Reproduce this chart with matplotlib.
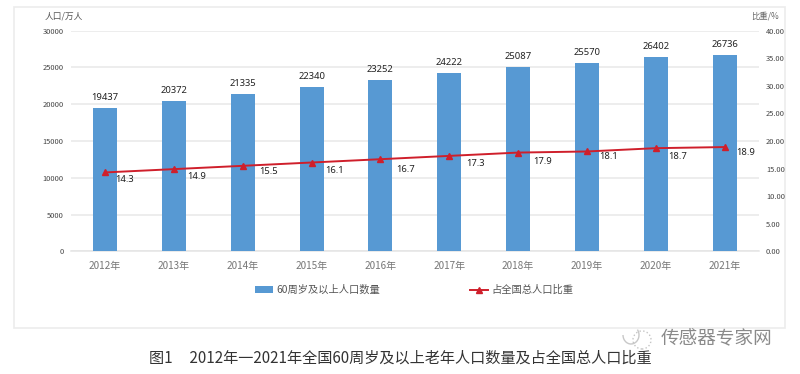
import matplotlib
matplotlib.use("Agg")
import matplotlib.pyplot as plt
from matplotlib.patches import Rectangle, Circle, Arc
from matplotlib.transforms import IdentityTransform

plt.rcParams['font.family'] = ['Noto Sans CJK SC', 'DejaVu Sans']

years = ["2012年", "2013年", "2014年", "2015年", "2016年", "2017年", "2018年", "2019年", "2020年", "2021年"]
population = [19437, 20372, 21335, 22340, 23252, 24222, 25087, 25570, 26402, 26736]
share = [14.3, 14.9, 15.5, 16.1, 16.7, 17.3, 17.9, 18.1, 18.7, 18.9]
pop_ticks = [0, 5000, 10000, 15000, 20000, 25000, 30000]
share_ticks = [0, 5, 10, 15, 20, 25, 30, 35, 40]

# label offsets from the line points, in pixels
label_dx = [19.5, 23, 26, 23, 25, 26, 24, 22, 22, 21]
label_dy = [-7, -7, -6, -8, -10, -8, -9, -5, -8, -5]

W, H = 800, 374
fig = plt.figure(figsize=(W / 100, H / 100), dpi=100, facecolor="white")

# outer frame of the pasted chart
fig.add_artist(Rectangle((14.5 / W, 1 - 328 / H), 770.5 / W, 321 / H, transform=fig.transFigure,
                         facecolor="white", edgecolor="#ececec", linewidth=1.2, zorder=-1))

ax = fig.add_axes([70.7 / W, 1 - 251.3 / H, 688.3 / W, 220.6 / H])
ax.patch.set_visible(False)
x = list(range(len(years)))
bars = ax.bar(x, population, width=0.35, color="#5799d3", label="60周岁及以上人口数量", zorder=3)
ax.set_xlim(-0.5, len(years) - 0.5)
ax.set_ylim(0, 30000)
ax.set_yticks(pop_ticks)
ax.set_xticks(x)
ax.set_xticklabels(years, fontsize=7.2, color="#777777")
ax.tick_params(axis="x", length=0, pad=7)
ax.tick_params(axis="y", length=0, pad=5, labelsize=5.4, labelcolor="#444444")
ax.grid(axis="y", color="#e8e8e8", linewidth=1.1, zorder=0)
ax.set_axisbelow(True)
for s in ["top", "left", "right"]:
    ax.spines[s].set_visible(False)
ax.spines["bottom"].set_color("#e4e4e4")
ax.spines["bottom"].set_linewidth(1.1)

for i in x:
    ax.annotate(str(population[i]), (i, population[i]), xytext=(0, 6), textcoords="offset pixels",
                ha="center", va="bottom", fontsize=6.8, color="#222222", family=["Noto Sans", "DejaVu Sans"])

ax2 = ax.twinx()
ax2.patch.set_visible(False)
line, = ax2.plot(x, share, color="#cf1f2b", linewidth=1.4, marker="^", markersize=4,
                 label="占全国总人口比重", zorder=5)
ax2.set_ylim(0, 40)
ax2.set_yticks(share_ticks)
ax2.set_yticklabels(["%.2f" % t for t in share_ticks])
ax2.tick_params(axis="y", length=0, pad=5, labelsize=5.4, labelcolor="#444444")
for s in ax2.spines.values():
    s.set_visible(False)

for i in x:
    ax2.annotate("%.1f" % share[i], (i, share[i]), xytext=(label_dx[i], label_dy[i]), textcoords="offset pixels",
                 ha="center", va="center", fontsize=6.8, color="#222222", family=["Noto Sans", "DejaVu Sans"])

fig.legend([bars, line], ["60周岁及以上人口数量", "占全国总人口比重"], loc="center", ncol=2,
           bbox_to_anchor=(414 / W, 1 - 290 / H), frameon=False, fontsize=7.4, labelcolor="#555555",
           columnspacing=8.7, handlelength=1.75, handletextpad=0.35)

fig.text(45 / W, 1 - 16 / H, "人口/万人", fontsize=6.3, color="#555555", ha="left", va="center")
fig.text(779 / W, 1 - 16 / H, "比重/%", fontsize=6, color="#666666", ha="right", va="center")

# caption and watermark
fig.text(400 / W, 1 - 358 / H, "图1     2012年一2021年全国60周岁及以上老年人口数量及占全国总人口比重",
         fontsize=10.9, color="#333333", ha="center", va="center")
fig.text(717 / W, 1 - 339 / H, "传感器专家网", fontsize=13.4, color="#8a8a8a", ha="center", va="center")

# small bubble icon next to the watermark
tr = IdentityTransform()
fig.add_artist(Circle((642, H - 340), 9, transform=tr, facecolor="none", edgecolor="#c4c4c4", linewidth=1, linestyle=":"))
fig.add_artist(Arc((631, H - 335), 16, 18, theta1=180, theta2=40, transform=tr, edgecolor="#c8c8c8", linewidth=1))

fig.savefig("out.png", dpi=100)
